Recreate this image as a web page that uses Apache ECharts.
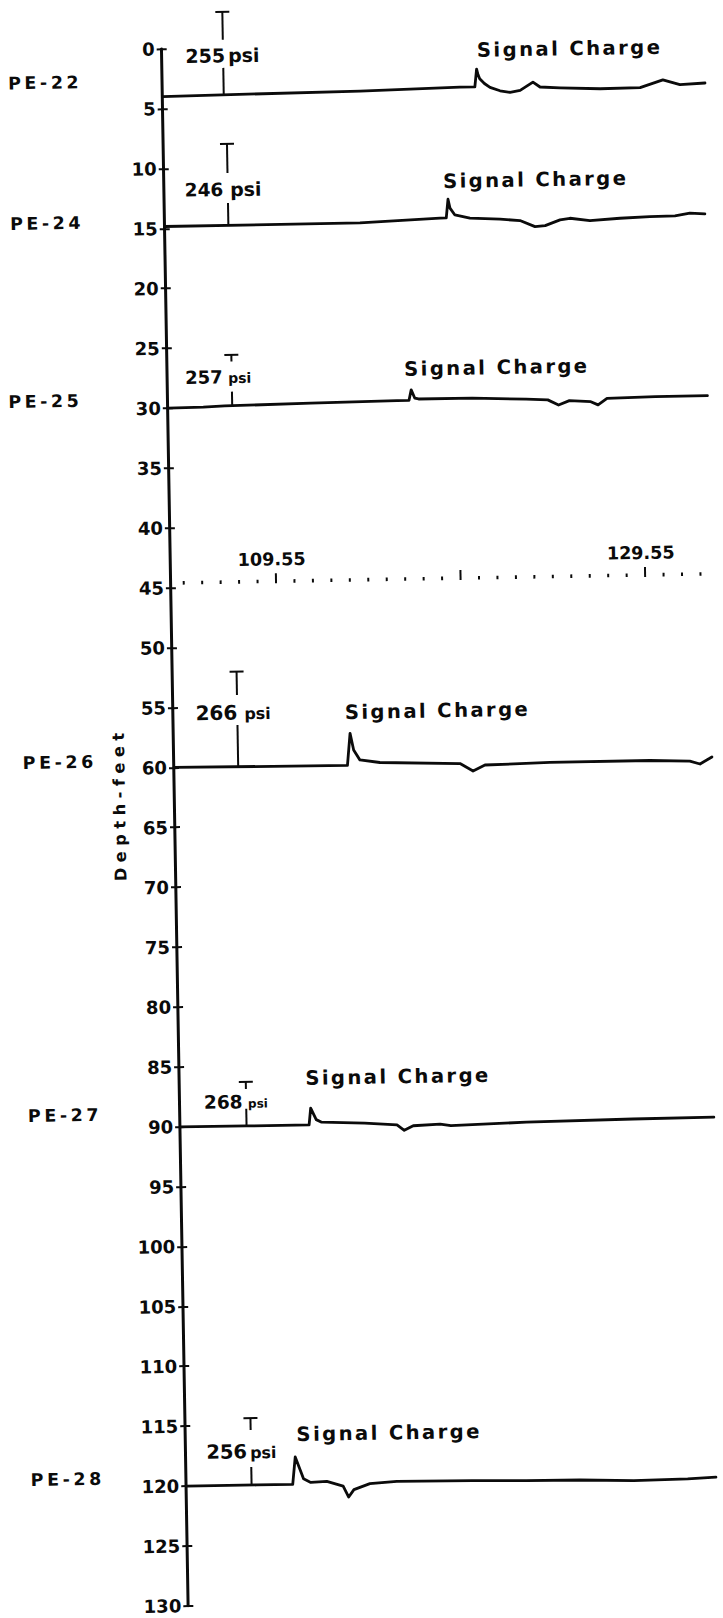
<!DOCTYPE html>
<html>
<head>
<meta charset="utf-8">
<title>Gauge records vs depth</title>
<script src="https://cdn.jsdelivr.net/npm/echarts@6.0.0/dist/echarts.min.js"></script>
<style>
  html, body { margin: 0; padding: 0; background: #fff; overflow: hidden; }
  /* the sheet sits slightly askew */
  #chart { width: 723px; height: 1618px; transform: rotate(-0.98deg); transform-origin: 50% 50%; }
  /* wide lettering-guide spacing for the hand-lettered annotations */
  #chart text[style*="19.6px"] { letter-spacing: 2.4px; }
  #chart text[style*="17.4px"] { letter-spacing: 3.6px; }
  #chart text[style*="16.2px"] { letter-spacing: 5.5px; }
</style>
</head>
<body>
<div id="chart"></div>
<script>
// ---- data ---------------------------------------------------------------
const gauges = ['PE-22', 'PE-24', 'PE-25', 'PE-26', 'PE-27', 'PE-28'];
const gaugeDepthFt = [4, 15, 30, 60, 90, 120];
const pressurePsi = [255, 246, 257, 266, 268, 256];
const pressureMarkMs = [107.17, 107.30, 107.34, 107.33, 107.45, 107.39];
const signalText = 'Signal Charge';

// gauge records: [time ms, plotted depth ft]
const tracePE22 = [[103.85,3.98],[114.56,3.80],[119.97,3.62],[120.78,3.62],[120.89,2.14],[120.96,2.60],[121.05,2.95],[121.30,3.35],[121.60,3.68],[122.14,3.98],[122.68,4.12],[123.23,3.98],[123.93,3.30],[124.31,3.72],[125.39,3.82],[127.56,3.95],[129.73,3.92],[130.97,3.30],[131.89,3.72],[133.25,3.62]];
const tracePE24 = [[103.85,14.83],[114.43,14.81],[118.77,14.53],[119.11,14.51],[119.22,12.96],[119.32,13.70],[119.58,14.28],[120.39,14.57],[122.02,14.70],[123.10,14.84],[123.91,15.37],[124.46,15.30],[125.27,14.84],[125.81,14.72],[126.89,14.94],[128.52,14.79],[130.14,14.70],[131.50,14.67],[132.31,14.47],[133.12,14.55]];
const tracePE25 = [[103.85,30.00],[105.77,29.97],[106.93,29.89],[111.60,29.79],[116.27,29.70],[116.92,29.70],[117.05,28.82],[117.24,29.52],[117.44,29.59],[120.35,29.60],[123.27,29.76],[124.44,29.85],[125.02,30.29],[125.61,29.94],[126.77,30.06],[127.16,30.34],[127.65,29.80],[130.27,29.73],[133.09,29.72]];
const tracePE26 = [[103.85,60.00],[113.25,60.08],[113.42,57.40],[113.60,58.80],[113.93,59.64],[115.01,59.88],[119.35,60.08],[120.05,60.72],[120.70,60.24],[124.22,60.12],[129.64,60.10],[131.80,60.20],[132.35,60.46],[133.00,59.89]];
const tracePE27 = [[103.85,90.01],[107.44,90.03],[110.84,90.03],[110.94,88.63],[111.23,89.60],[111.52,89.82],[113.85,89.97],[115.60,90.16],[115.99,90.62],[116.48,90.25],[117.94,90.16],[118.52,90.30],[122.61,90.11],[128.39,90.00],[132.77,89.96]];
const tracePE28 = [[103.85,120.01],[107.68,120.01],[109.62,120.01],[109.78,117.73],[110.21,119.57],[110.60,119.88],[111.47,119.81],[112.35,120.23],[112.64,121.15],[112.93,120.54],[113.80,120.06],[115.26,119.91],[119.35,119.96],[122.27,120.04],[125.18,120.06],[128.10,120.19],[131.02,120.12],[132.55,120.01]];
const traces = [tracePE22, tracePE24, tracePE25, tracePE26, tracePE27, tracePE28];

// timing line marks (ms)
const timingMarksMs = [104.55,105.55,106.55,107.55,108.55,109.55,110.55,111.55,112.55,113.55,114.55,115.55,116.55,117.55,118.55,119.55,120.55,121.55,122.55,123.55,124.55,125.55,126.55,127.55,128.55,129.55,130.55,131.55,132.55];
const timingMajorMs = [109.55, 119.55, 129.55];
const timingLabelsMs = [109.55, 129.55];

// depth axis
const depthMin = 0, depthMax = 130, depthStep = 5;
const depthName = 'Depth-feet';
const timeMin = 103.85, timeMax = 133.55;

// ---- layout -------------------------------------------------------------
const INK = '#0b0b0b';
const FONT = 'DejaVu Sans';
const timingDepthFt = 44.6;
const depthNameAt = { dx: -55, depth: 63.0 };   // px left of the axis, ft along it
// pressure marker pieces, in ft on the depth scale; text offsets in px
const markerLayout = [
  { bar: -3.00, upperEnd: -0.67, label: 0.63,  lowerStart: 1.67,   numDx: 2,    psiDx: 5,    numSize: 19,   psiSize: 19 },
  { bar: 8.02,  upperEnd: 10.45, label: 11.82, lowerStart: 12.95,  numDx: -4.4, psiDx: 2.3,  numSize: 18.5, psiSize: 19 },
  { bar: 25.65, upperEnd: 26.20, label: 27.46, lowerStart: 28.71,  numDx: -9,   psiDx: -3.6, numSize: 18,   psiSize: 14 },
  { bar: 52.09, upperEnd: 54.04, label: 55.50, lowerStart: 56.54,  numDx: 0,    psiDx: 7,    numSize: 20,   psiSize: 16 },
  { bar: 86.35, upperEnd: 86.95, label: 88.00, lowerStart: 88.60,  numDx: -3.6, psiDx: 1.8,  numSize: 18.5, psiSize: 12 },
  { bar: 114.42,upperEnd: 115.42,label: 117.22,lowerStart: 118.51, numDx: -4,   psiDx: -1,   numSize: 19.5, psiSize: 16 }
];
const signalLabelPos = [[120.93, 0.57], [118.97, 11.46], [116.69, 27.08], [113.16, 55.65], [110.68, 86.14], [109.87, 115.86]];
const gaugeLabelPos = [[20.6, 2.66], [20.1, 14.4], [15.3, 29.25], [23.6, 59.41], [22.8, 88.89], [19.3, 119.28]];

function interpAt(trace, t) {
  for (let i = 1; i < trace.length; i++) {
    if (trace[i][0] >= t) {
      const a = trace[i - 1], b = trace[i];
      return a[1] + (b[1] - a[1]) * (t - a[0]) / (b[0] - a[0]);
    }
  }
  return trace[trace.length - 1][1];
}

function seg(x1, y1, x2, y2, w) {
  return { type: 'line', shape: { x1, y1, x2, y2 }, style: { stroke: INK, lineWidth: w, lineCap: 'butt' } };
}
function label(str, x, y, size, align, rotation) {
  return {
    type: 'text', x, y, rotation: rotation || 0,
    style: { text: str, fill: INK, fontSize: size, fontFamily: FONT, fontWeight: 'bold',
             align, textAlign: align, verticalAlign: 'middle', textVerticalAlign: 'middle' }
  };
}

function renderGauge(params, api) {
  const i = params.dataIndex;
  const L = markerLayout[i];
  const t = api.value(0);
  const x = api.coord([t, 0])[0];
  const yOf = d => api.coord([t, d])[1];
  const yBar = yOf(L.bar), yUp = yOf(L.upperEnd), yLab = yOf(L.label), yLow = yOf(L.lowerStart);
  const yTrace = yOf(interpAt(traces[i], t));
  const sig = api.coord(signalLabelPos[i]);
  const peY = yOf(gaugeLabelPos[i][1]);
  const psiY = yLab + 0.346 * (L.numSize - L.psiSize);
  return {
    type: 'group',
    children: [
      seg(x - 7, yBar, x + 7, yBar, 2),
      seg(x, yBar, x, yUp, 2),
      seg(x, yLow, x, yTrace, 2),
      label(String(pressurePsi[i]), x + L.numDx, yLab, L.numSize, 'right'),
      label('psi', x + L.psiDx, psiY, L.psiSize, 'left'),
      label(signalText, sig[0], sig[1], 19.6, 'left'),
      label(gauges[i], gaugeLabelPos[i][0], peY, 17.4, 'left')
    ]
  };
}

function renderTiming(params, api) {
  const t = api.value(0);
  const p = api.coord([t, timingDepthFt]);
  const major = timingMajorMs.indexOf(t) >= 0;
  const children = [{
    type: 'rect',
    shape: major ? { x: p[0] - 1, y: p[1] - 8, width: 2, height: 10 } : { x: p[0] - 1, y: p[1] - 1.8, width: 2, height: 3.6 },
    style: { fill: INK }
  }];
  if (timingLabelsMs.indexOf(t) >= 0) children.push(label(t.toFixed(2), p[0] - 4, p[1] - 22, 17.6, 'center'));
  return { type: 'group', children };
}

function renderDepthName(params, api) {
  const p = api.coord([timeMin, depthNameAt.depth]);
  return label(depthName, p[0] + depthNameAt.dx, p[1], 16.2, 'center', Math.PI / 2);
}

const chart = echarts.init(document.getElementById('chart'), null, { renderer: 'svg', width: 723, height: 1618 });

const traceSeries = traces.map((data, i) => ({
  name: gauges[i], type: 'line', data, symbol: 'none', showSymbol: false, clip: false,
  lineStyle: { color: INK, width: 2.8, cap: 'round', join: 'round' }, itemStyle: { color: INK }, z: 3
}));

chart.setOption({
  animation: false,
  backgroundColor: '#fff',
  grid: { left: 174.7, top: 45.6, width: 548.2, height: 1557.1, containLabel: false, outerBoundsMode: 'none' },
  xAxis: { type: 'value', min: timeMin, max: timeMax, show: false },
  yAxis: [{
    type: 'value', position: 'left', offset: 0, min: depthMin, max: depthMax, interval: depthStep, inverse: true,
    axisLine: { show: true, lineStyle: { color: INK, width: 3 } },
    axisTick: { show: true, inside: false, length: 5, lineStyle: { color: INK, width: 2 } },
    axisLabel: { show: true, margin: 7, fontSize: 18, fontFamily: FONT, fontWeight: 'bold', color: INK },
    splitLine: { show: false }
  }, {
    type: 'value', position: 'left', offset: 0, min: depthMin, max: depthMax, interval: depthStep, inverse: true,
    axisLine: { show: false },
    axisTick: { show: true, inside: true, length: 5, lineStyle: { color: INK, width: 2 } },
    axisLabel: { show: false }, splitLine: { show: false }
  }],
  series: traceSeries.concat([
    { type: 'custom', name: 'gauge marks', clip: false, z: 4,
      data: gauges.map((g, i) => [pressureMarkMs[i], gaugeDepthFt[i]]),
      renderItem: renderGauge },
    { type: 'custom', name: 'timing', clip: false, z: 4,
      data: timingMarksMs.map(t => [t, timingDepthFt]),
      renderItem: renderTiming },
    { type: 'custom', name: depthName, clip: false, z: 4,
      data: [[timeMin, depthNameAt.depth]],
      renderItem: renderDepthName }
  ])
});
</script>
</body>
</html>
